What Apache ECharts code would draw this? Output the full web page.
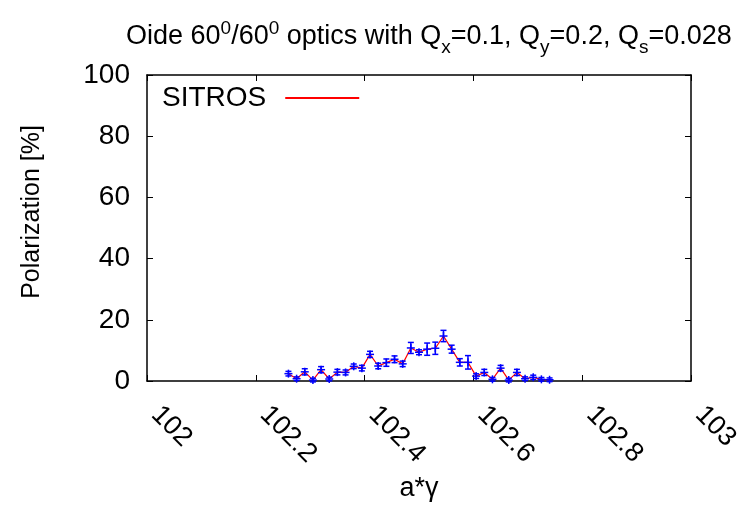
<!DOCTYPE html>
<html>
<head>
<meta charset="utf-8">
<script src="https://cdn.jsdelivr.net/npm/echarts@6/dist/echarts.min.js"></script>
<style>html,body{margin:0;padding:0;background:#fff}#c{width:747px;height:518px}</style>
</head>
<body>
<div id="c"></div>
<script>
var xTicks = [102, 102.2, 102.4, 102.6, 102.8, 103];
var yTicks = [0, 20, 40, 60, 80, 100];
var agamma = [102.260, 102.275, 102.290, 102.305, 102.320, 102.335, 102.350, 102.365, 102.380, 102.395,
              102.410, 102.425, 102.440, 102.455, 102.470, 102.485, 102.500, 102.515, 102.530, 102.545,
              102.560, 102.575, 102.590, 102.605, 102.620, 102.635, 102.650, 102.665, 102.680, 102.695,
              102.710, 102.725, 102.740];
var polarization = [2.4, 0.75, 3.0, 0.3, 3.7, 0.65, 2.9, 2.8, 4.8, 4.2,
                    8.7, 4.9, 6.0, 7.1, 5.6, 10.8, 9.4, 10.4, 10.7, 14.7,
                    10.4, 6.1, 6.1, 1.6, 2.8, 0.55, 4.2, 0.3, 2.8, 0.75,
                    1.2, 0.55, 0.4];
var errors = [0.75, 0.6, 1.0, 0.6, 1.0, 0.6, 0.9, 0.8, 0.75, 0.9,
              1.0, 0.9, 1.2, 1.1, 0.9, 1.8, 0.8, 2.0, 2.0, 1.85,
              1.3, 1.2, 2.2, 0.75, 1.0, 0.6, 0.9, 0.6, 1.0, 0.6,
              0.7, 0.6, 0.6];

var lineData = agamma.map(function (x, i) { return [x, polarization[i]]; });
var errData = agamma.map(function (x, i) { return [x, polarization[i], errors[i]]; });

var FONT = 'Liberation Sans';
var chart = echarts.init(document.getElementById('c'), null, {renderer: 'canvas'});

function axisCommon() {
  return {
    axisLine: {show: true, onZero: false, lineStyle: {color: '#000', width: 1.5}},
    axisTick: {show: true, inside: true, length: 6, lineStyle: {color: '#000', width: 1}},
    splitLine: {show: false}
  };
}

var option = {
  animation: false,
  backgroundColor: '#fff',
  title: {
    left: 121, top: 12,
    text: '{n|Oide 60}{sup|0}{n|/60}{sup|0}{n| optics with Q}{sub|x}{n|=0.1, Q}{sub|y}{n|=0.2, Q}{sub|s}{n|=0.028}',
    textStyle: {
      fontWeight: 'normal',
      rich: {
        n: {fontFamily: FONT, fontSize: 27, fontWeight: 'normal', color: '#000', lineHeight: 40, verticalAlign: 'middle'},
        sup: {fontFamily: FONT, fontSize: 19, fontWeight: 'normal', color: '#000', lineHeight: 40, verticalAlign: 'top', padding: [2, 0, 0, 0]},
        sub: {fontFamily: FONT, fontSize: 19, fontWeight: 'normal', color: '#000', lineHeight: 40, verticalAlign: 'bottom'}
      }
    }
  },
  legend: {
    left: 157, top: 79,
    align: 'right',
    itemWidth: 74, itemHeight: 2,
    data: [{name: 'SITROS', icon: 'rect'}],
    textStyle: {fontFamily: FONT, fontSize: 28, color: '#000', padding: [0, 14, 0, 0]}
  },
  grid: {left: 147, right: 56, top: 75, bottom: 137, containLabel: false},
  xAxis: [
    Object.assign(axisCommon(), {
      type: 'value', min: xTicks[0], max: xTicks[xTicks.length - 1], interval: 0.2,
      position: 'bottom',
      name: 'a*γ', nameLocation: 'middle', nameGap: 89,
      nameTextStyle: {fontFamily: FONT, fontSize: 27, color: '#000'},
      axisLabel: {fontFamily: FONT, fontSize: 27, color: '#000', rotate: -45, margin: 21,
        padding: [0, 0, 0, 12],
        formatter: function (v) { return String(+v.toFixed(1)); }}
    }),
    Object.assign(axisCommon(), {
      type: 'value', min: xTicks[0], max: xTicks[xTicks.length - 1], interval: 0.2,
      position: 'top', axisLabel: {show: false}
    })
  ],
  yAxis: [
    Object.assign(axisCommon(), {
      type: 'value', min: yTicks[0], max: yTicks[yTicks.length - 1], interval: 20,
      position: 'left',
      name: 'Polarization [%]', nameLocation: 'middle', nameGap: 102,
      nameTextStyle: {fontFamily: FONT, fontSize: 25, color: '#000', padding: [0, 0, 0, 32]},
      axisLabel: {fontFamily: FONT, fontSize: 28, color: '#000', margin: 17}
    }),
    Object.assign(axisCommon(), {
      type: 'value', min: yTicks[0], max: yTicks[yTicks.length - 1], interval: 20,
      position: 'right', axisLabel: {show: false}
    })
  ],
  series: [
    {
      name: 'SITROS', type: 'line', data: lineData,
      xAxisIndex: 0, yAxisIndex: 0,
      showSymbol: false, symbol: 'none',
      lineStyle: {color: '#ff0000', width: 1.2},
      itemStyle: {color: '#ff0000'},
      z: 2
    },
    {
      name: 'err', type: 'custom', data: errData,
      xAxisIndex: 0, yAxisIndex: 0, z: 3,
      encode: {x: 0, y: 1},
      renderItem: function (params, api) {
        var x = api.value(0), y = api.value(1), e = api.value(2);
        var p = api.coord([x, y]);
        var lo = api.coord([x, y - e]);
        var hi = api.coord([x, y + e]);
        var cap = 3, m = 4;
        var st = {stroke: '#0000ff', lineWidth: 1.5, fill: null};
        return {
          type: 'group',
          children: [
            {type: 'line', shape: {x1: p[0], y1: lo[1], x2: p[0], y2: hi[1]}, style: st},
            {type: 'line', shape: {x1: p[0] - cap, y1: lo[1], x2: p[0] + cap, y2: lo[1]}, style: st},
            {type: 'line', shape: {x1: p[0] - cap, y1: hi[1], x2: p[0] + cap, y2: hi[1]}, style: st},
            {type: 'line', shape: {x1: p[0] - m, y1: p[1], x2: p[0] + m, y2: p[1]}, style: st},
            {type: 'line', shape: {x1: p[0], y1: p[1] - m, x2: p[0], y2: p[1] + m}, style: st}
          ]
        };
      }
    }
  ]
};
chart.setOption(option);
</script>
</body>
</html>
